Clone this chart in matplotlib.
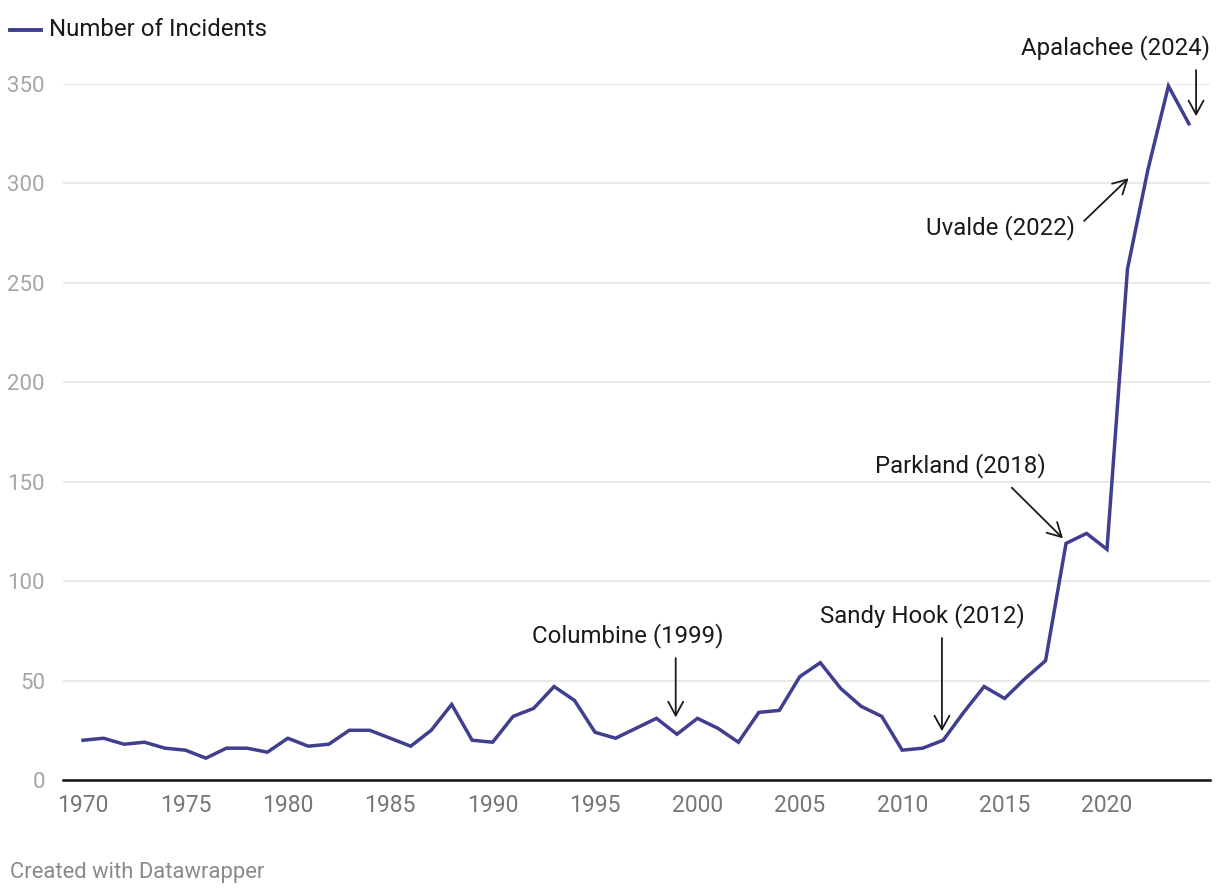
import matplotlib
matplotlib.use("Agg")
import matplotlib.pyplot as plt
import numpy as np

plt.rcParams['font.family'] = ['Roboto', 'DejaVu Sans']

# data
years = np.arange(1970, 2025)
incidents = [20, 21, 18, 19, 16, 15, 11, 16, 16, 14,
             21, 17, 18, 25, 25, 21, 17, 25, 38, 20,
             19, 32, 36, 47, 40, 24, 21, 26, 31, 23,
             31, 26, 19, 34, 35, 52, 59, 46, 37, 32,
             15, 16, 20, 34, 47, 41, 51, 60, 119, 124,
             116, 257, 307, 349, 330]
y_ticks = [0, 50, 100, 150, 200, 250, 300, 350]
x_ticks = [1970, 1975, 1980, 1985, 1990, 1995, 2000, 2005, 2010, 2015, 2020]
series_label = 'Number of Incidents'

# annotation: label, text pos, text align, arrow start, arrow end (data coords)
notes = [
    ('Columbine (1999)', (1996.6, 72.4), 'center', (1998.94, 61.3), (1998.94, 31.5)),
    ('Sandy Hook (2012)', (2010.97, 82.5), 'center', (2011.94, 71.4), (2011.94, 24.5)),
    ('Parkland (2018)', (2012.82, 157.9), 'center', (2015.35, 147.0), (2017.85, 121.5)),
    ('Uvalde (2022)', (2018.44, 277.6), 'right', (2018.88, 281.1), (2021.05, 302.6)),
    ('Apalachee (2024)', (2025.03, 368.1), 'right', (2024.35, 357.0), (2024.35, 333.8)),
]

line_color = '#3f3e8f'
W, H = 1220, 896
fig = plt.figure(figsize=(W / 100, H / 100), dpi=100)
ax = fig.add_axes([63 / W, (H - 780) / H, (1210 - 63) / W, (780 - 84) / H])

ax.plot(years, incidents, color=line_color, lw=2.5, clip_on=False,
        solid_joinstyle='miter', zorder=3)

ax.set_xlim(1969.02, 2025.03)
ax.set_ylim(0, 350)
ax.set_yticks(y_ticks)
ax.set_xticks(x_ticks)
ax.grid(axis='y', color='#e3e3e3', lw=1.1)
ax.set_axisbelow(True)
for s in ['top', 'right', 'left']:
    ax.spines[s].set_visible(False)
ax.spines['bottom'].set_color('#111111')
ax.spines['bottom'].set_linewidth(1.8)
ax.spines['bottom'].set_zorder(4)
ax.tick_params(axis='y', length=0, pad=13, labelsize=16, labelcolor='#a6a6a6')
ax.tick_params(axis='x', length=0, pad=10, labelsize=16.5, labelcolor='#777777')

for label, tpos, ha, start, end in notes:
    ax.text(tpos[0], tpos[1], label, ha=ha, va='center', fontsize=17.3,
            color='#1a1a1a', clip_on=False)
    ax.annotate('', xy=end, xytext=start, annotation_clip=False,
                arrowprops=dict(arrowstyle='->, head_length=0.55, head_width=0.3',
                                color='#1a1a1a', lw=1.3, shrinkA=0, shrinkB=0,
                                mutation_scale=18))

# legend drawn as in the reference (line + label top left)
fig.add_artist(plt.Line2D([10 / W, 41 / W], [1 - 30 / H, 1 - 30 / H],
                          color=line_color, lw=2.8, transform=fig.transFigure))
fig.text(49 / W, 1 - 30 / H, series_label, ha='left', va='center',
         fontsize=17.3, color='#1a1a1a')

fig.text(10 / W, 1 - 872 / H, 'Created with Datawrapper', ha='left', va='center',
         fontsize=15.8, color='#8a8a8a')

fig.savefig('out.png', dpi=100)
